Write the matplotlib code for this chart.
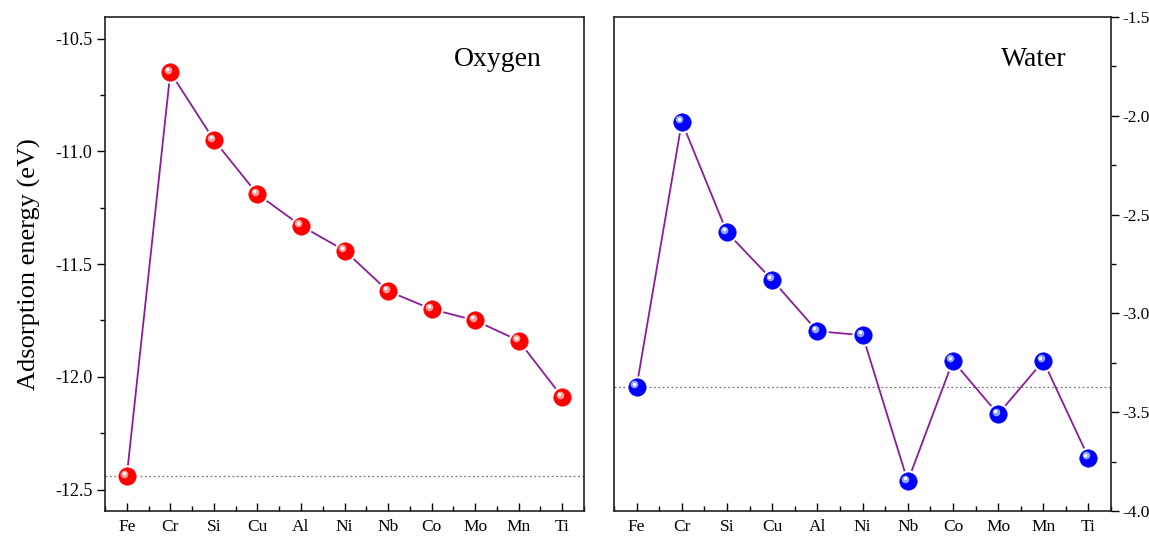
import matplotlib
matplotlib.use('Agg')
from matplotlib import pyplot as plt
from matplotlib.ticker import MultipleLocator, AutoMinorLocator
from matplotlib.transforms import offset_copy

plt.rcParams['font.family'] = ['Liberation Serif', 'DejaVu Serif']
plt.rcParams['axes.unicode_minus'] = False

elements = ['Fe', 'Cr', 'Si', 'Cu', 'Al', 'Ni', 'Nb', 'Co', 'Mo', 'Mn', 'Ti']
oxygen_energy = [-12.44, -10.65, -10.95, -11.19, -11.33, -11.44, -11.62, -11.70, -11.75, -11.84, -12.09]
water_energy = [-3.37, -2.03, -2.59, -2.83, -3.09, -3.11, -3.85, -3.24, -3.51, -3.24, -3.73]

line_color = '#8b1c9c'


def draw_panel(ax, values, ball_color, shine_color, fig):
    x = list(range(len(values)))
    # 参考线：Fe 的数值
    ax.axhline(values[0], color='#777777', ls=(0, (1.5, 2)), lw=0.9, zorder=1)
    ax.plot(x, values, color=line_color, lw=1.3, zorder=2)
    # 白边让线条和小球之间留一点空隙
    ax.plot(x, values, ls='none', marker='o', ms=12.5, mfc=ball_color,
            mec='white', mew=3.5, zorder=3)
    ax.plot(x, values, ls='none', marker='o', ms=12.5, mfc=ball_color,
            mec=ball_color, mew=0.5, zorder=4)
    # 高光
    shine = offset_copy(ax.transData, fig=fig, x=-2.5, y=2.5, units='dots')
    ax.plot(x, values, ls='none', marker='o', ms=5.5, mfc=shine_color,
            mec='none', alpha=0.7, transform=shine, zorder=5)
    shine2 = offset_copy(ax.transData, fig=fig, x=-3, y=3, units='dots')
    ax.plot(x, values, ls='none', marker='o', ms=2.5, mfc='white',
            mec='none', transform=shine2, zorder=6)

    ax.set_xlim(-0.5, 10.5)
    ax.set_xticks(x)
    ax.set_xticklabels(elements, fontsize=12.5)
    ax.xaxis.set_minor_locator(AutoMinorLocator(2))
    ax.tick_params(axis='x', which='major', direction='in', length=6, width=1, pad=6)
    ax.tick_params(axis='x', which='minor', direction='in', length=3.5, width=1)
    ax.tick_params(axis='y', which='major', direction='out', length=6, width=1,
                   labelsize=13, pad=3)
    ax.tick_params(axis='y', which='minor', direction='out', length=3.5, width=1)
    ax.yaxis.set_minor_locator(AutoMinorLocator(2))
    for s in ax.spines.values():
        s.set_linewidth(1.2)
        s.set_color('#222222')


fig = plt.figure(figsize=(11.49, 5.38), dpi=100)
ax1 = fig.add_axes([0.0914, 0.0502, 0.4169, 0.918])
ax2 = fig.add_axes([0.5344, 0.0502, 0.4326, 0.918])

draw_panel(ax1, oxygen_energy, '#ff0000', '#ffe0e0', fig)
ax1.set_ylim(-12.595, -10.405)
ax1.yaxis.set_major_locator(MultipleLocator(0.5))
ax1.set_ylabel('Adsorption energy (eV)', fontsize=19, labelpad=10)
ax1.text(0.82, 0.915, 'Oxygen', transform=ax1.transAxes, fontsize=20,
         ha='center', va='center')

draw_panel(ax2, water_energy, '#0000ff', '#d0ecff', fig)
ax2.set_ylim(-4.0, -1.5)
ax2.yaxis.set_major_locator(MultipleLocator(0.5))
ax2.yaxis.tick_right()
ax2.yaxis.set_label_position('right')
ax2.tick_params(axis='y', which='major', labelsize=12.5, pad=2)
ax2.text(0.845, 0.915, 'Water', transform=ax2.transAxes, fontsize=20,
         ha='center', va='center')

fig.savefig('out.png', dpi=100)
